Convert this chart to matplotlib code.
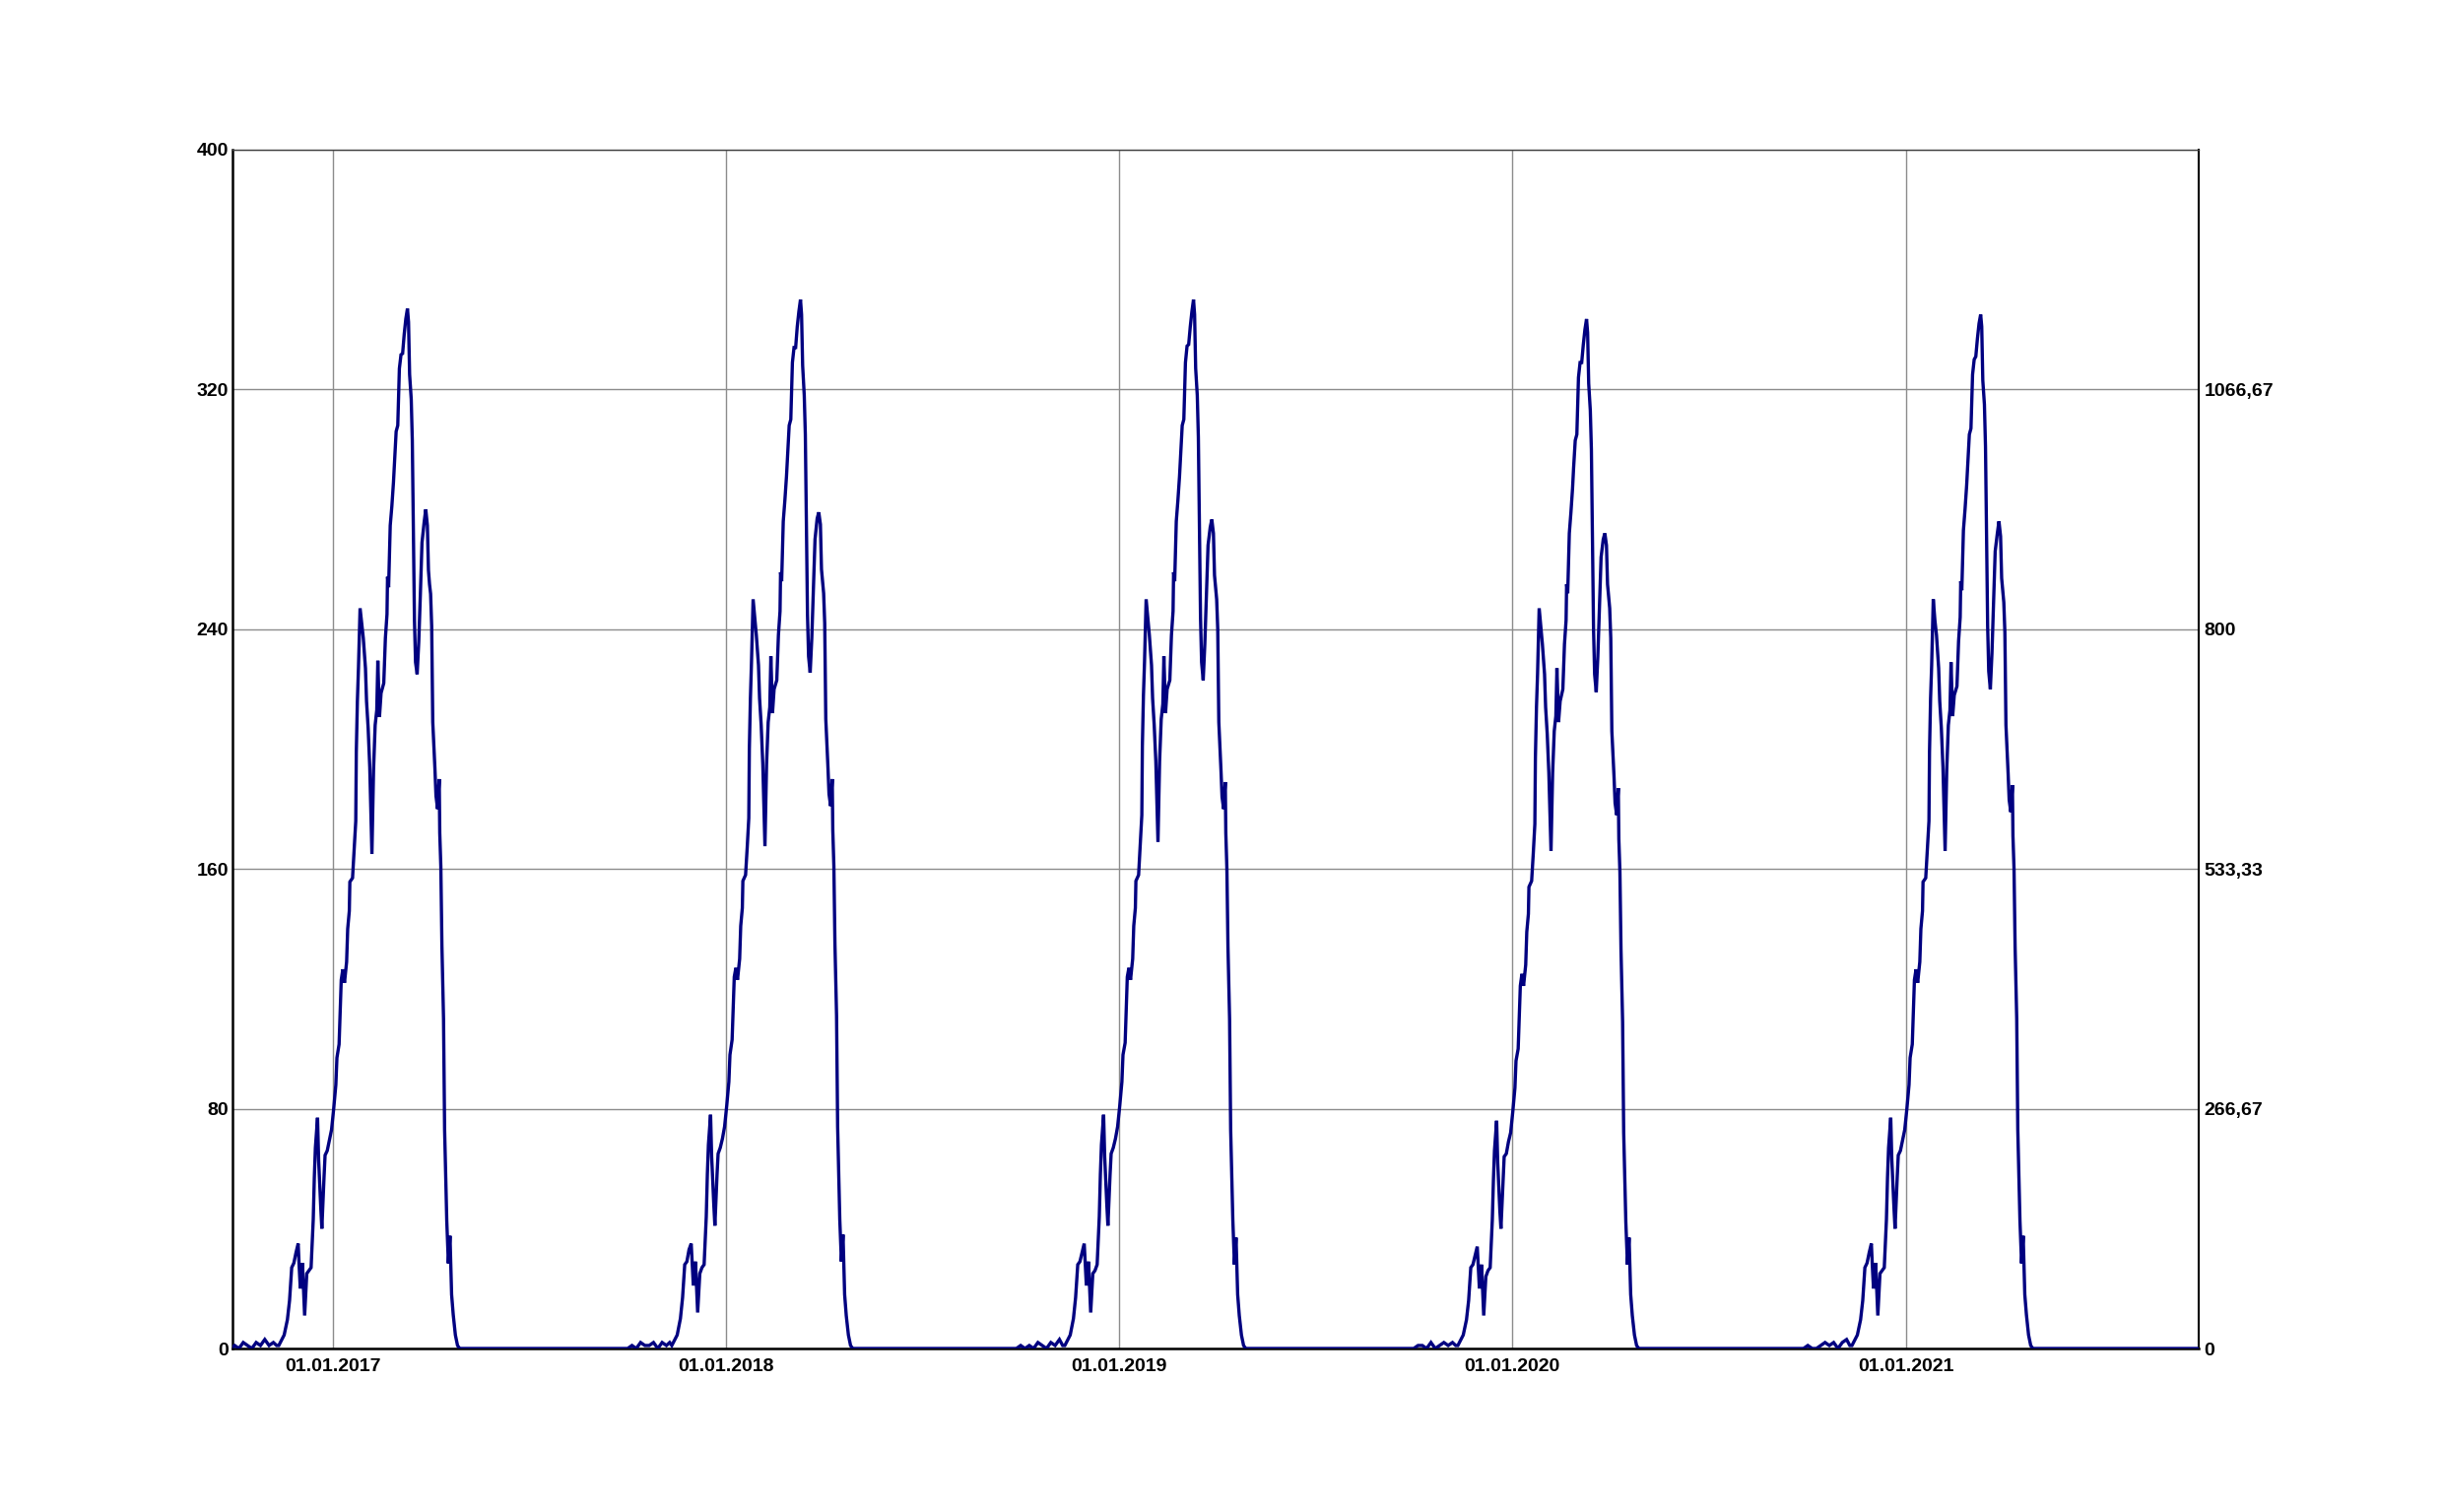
import numpy as np
import matplotlib
matplotlib.use("Agg")
import matplotlib.pyplot as plt
import matplotlib.dates as mdates

# day offsets relative to 1 January of each season year
season_days = [
    -95, -91, -87, -83, -79, -75, -71, -67, -63, -59, -55, -52,
    -50, -45, -42, -40, -38, -36, -34, -32, -31, -30, -28, -26, -24, -22, -20,
    -18, -17, -16, -14, -13, -11, -10, -8, -7, -5, -3, -1,
    1, 3, 4, 6, 8, 9.5, 11, 13, 14, 15.5, 16, 18.5, 20, 21.5, 22,
    23, 24, 25.5, 27, 28.5, 30.5, 31.5, 33, 34.5, 36.5, 38, 39.5, 41, 42, 43.5, 45, 47.5,
    49, 50.5, 51, 52, 53.5, 55, 56.5, 57.5, 59, 60.5, 62, 63.5, 65, 66.5, 68, 69.5,
    70.5, 71.5, 73, 74, 75, 76, 77, 78.5, 80, 81.5, 83, 85, 86.5, 88, 89, 90, 91, 92,
    93, 95, 96, 97.5, 99, 99.5, 100.5, 101.5, 103, 104, 106, 107.5, 109, 110.5, 112, 114, 116, 118,
]

swe_2017 = [
    0, 1, 0, 2, 1, 0, 2, 1, 3, 1, 2, 1,
    1, 4.5, 9.6, 16, 27, 28.5, 32, 35, 27, 20, 28.5, 11, 25, 26, 27,
    43, 57, 67, 77, 63, 47, 40, 57, 64.5, 66, 69.5, 73,
    80, 88, 97, 101.5, 123, 126.5, 122, 129, 140, 146, 155.7, 157, 166.5, 176, 199,
    216, 227, 247, 242, 237, 227, 216, 207, 194, 165, 193, 208, 213, 229.5, 210.7, 218.7, 222,
    237, 245, 257.5, 254, 274.6, 281, 289, 296, 306, 308, 327, 331.6, 332, 338.5, 343.6, 347,
    342.5, 325, 316.8, 303, 273.4, 243, 229, 225, 235.8, 251.8, 268.9, 275.7, 280, 274.6, 259.7, 255, 251.8, 241,
    209, 193.6, 184.4, 180, 190, 172, 160.8, 134.5, 110, 73, 42.7, 28.4, 37.6, 18, 11.3, 4.5, 1, 0,
]

swe_2018 = [
    0, 0, 1, 0, 2, 1, 1, 2, 0, 2, 1, 2,
    1, 4.5, 10, 17, 28, 29, 33, 35, 28, 21, 29, 12, 25, 27, 28,
    44, 58, 68, 78, 64, 48, 41, 58, 65, 67, 70, 74,
    81, 89, 98, 103, 124, 127, 123, 130, 141, 147, 156, 158, 167, 177, 200,
    217, 229, 250, 244, 238, 228, 217, 208, 195, 167.6, 195, 209, 214, 231, 212, 220, 223,
    238, 246, 259, 256, 276, 283, 291, 298, 308, 310, 329, 334, 334, 341, 346, 350,
    345, 328, 318, 305, 275, 245, 231, 225.5, 237, 253, 270, 277, 279, 275, 260, 256, 252, 242,
    210, 194, 185, 181, 190, 173, 161, 135, 111, 74, 43, 29, 38, 18, 11, 4.5, 1, 0,
]

swe_2019 = [
    0, 1, 0, 1, 0, 2, 1, 0, 2, 1, 3, 1,
    1, 4.5, 10, 17, 28, 29, 32, 35, 28, 21, 29, 12, 25, 26, 28,
    44, 58, 68, 78, 64, 48, 41, 58, 65, 67, 70, 74,
    81, 89, 98, 102, 124, 127, 123, 130, 141, 147, 156, 158, 168, 178, 201,
    218, 229, 250, 244, 238, 228, 217, 208, 196, 169, 196, 210, 215, 231, 212, 220, 223,
    238, 246, 259, 256, 276, 283, 291, 298, 308, 310, 329, 334.5, 335, 341, 346, 350,
    345, 327, 318, 304, 274, 244, 229, 223, 235, 251, 268, 274, 276.6, 272, 258, 254, 250, 240,
    209, 193, 184, 180, 189, 172, 160, 134, 110, 73, 43, 28, 37, 18, 11, 4.5, 1, 0,
]

swe_2020 = [
    0, 0, 1, 1, 0, 2, 0, 1, 2, 1, 2, 1,
    1, 4.5, 9.6, 16, 27, 28, 31, 34, 27, 20, 28, 11, 24, 26, 27,
    43, 56, 66, 76, 62, 46, 40, 56, 64, 65, 69, 72,
    79, 87, 96, 100, 121, 125, 121, 128, 139, 145, 154, 156, 165, 175, 197,
    214, 225, 247, 241, 235, 225, 214, 205, 192, 166, 192, 206, 211, 227, 209, 216, 220,
    235, 243, 255, 252, 272, 279, 287, 294, 303, 305, 324, 329, 329, 335, 340, 343.5,
    339, 322, 313, 300, 270, 240, 225, 219, 231, 247, 264, 270, 272, 268, 255, 251, 247, 237,
    206, 191, 182, 178, 187, 170, 159, 133, 109, 72, 42, 28, 37, 18, 11, 4.5, 1, 0,
]

swe_2021 = [
    0, 1, 0, 0, 1, 2, 1, 2, 0, 2, 3, 1,
    1, 4.5, 9.6, 16, 27, 28.5, 32, 35, 27, 20, 28.5, 11, 25, 26, 27,
    43, 57, 67, 77, 63, 47, 40, 57, 64.5, 66, 69.5, 73,
    80, 88, 97, 101.5, 123, 126.5, 122, 129, 140, 146, 155.7, 157, 166.5, 176, 199,
    217, 228, 250, 243, 238, 227, 216, 207, 194, 166, 193, 208, 213, 229, 211, 218, 221,
    236, 244, 256, 253, 273, 280, 288, 295, 305, 307, 325, 330, 331, 337, 342, 345,
    341, 323, 315, 301, 271, 241, 226, 220, 232, 249, 266, 272, 276, 271, 257, 253, 249, 239,
    208, 192, 183, 179, 188, 171, 160, 134, 110, 73, 42.7, 28.4, 37.6, 18, 11.3, 4.5, 1, 0,
]

season_years = [2017, 2018, 2019, 2020, 2021]
season_values = [swe_2017, swe_2018, swe_2019, swe_2020, swe_2021]

x_start = np.datetime64("2016-09-30")
x_end = np.datetime64("2021-09-30")

left_ticks = [0, 80, 160, 240, 320, 400]
right_ticks = [0, 266.67, 533.33, 800, 1066.67]
right_labels = ["0", "266,67", "533,33", "800", "1066,67"]
year_ticks = [np.datetime64(f"{y}-01-01") for y in season_years]

# build the continuous series
dates = []
vals = []
for yr, v in zip(season_years, season_values):
    base = np.datetime64(f"{yr}-01-01T00:00")
    offs = (np.array(season_days) * 24).astype(int).astype("timedelta64[h]")
    dates.extend(list(base + offs))
    vals.extend(v)
dates.append(x_end.astype("datetime64[h]"))
vals.append(0)
dates = np.array(dates, dtype="datetime64[h]").astype("datetime64[ms]").astype(object)

plt.rcParams["font.family"] = ["Liberation Sans", "DejaVu Sans"]

fig = plt.figure(figsize=(24.8, 15.35), dpi=100)
ax = fig.add_axes([236 / 2480, 1 - 1369 / 1535, (2232 - 236) / 2480, (1369 - 152) / 1535])

ax.plot(dates, vals, color="#000080", lw=2.4, zorder=3, solid_joinstyle="miter")

ax.set_xlim(x_start.astype(object), x_end.astype(object))
ax.set_ylim(0, 400)
ax.set_xticks([t.astype(object) for t in year_ticks])
ax.xaxis.set_major_formatter(mdates.DateFormatter("%d.%m.%Y"))
ax.set_yticks(left_ticks)
ax.set_yticklabels([str(t) for t in left_ticks])
ax.grid(True, color="#8c8c8c", lw=1.0)
ax.set_axisbelow(True)
ax.tick_params(axis="both", length=0, labelsize=14)
ax.tick_params(axis="y", pad=3)
ax.tick_params(axis="x", pad=7)
for lab in ax.get_xticklabels() + ax.get_yticklabels():
    lab.set_fontweight("bold")

ax.spines["left"].set_linewidth(1.8)
ax.spines["bottom"].set_linewidth(1.8)
ax.spines["right"].set_linewidth(1.5)
ax.spines["top"].set_linewidth(1.0)
ax.spines["top"].set_color("#404040")
for s in ax.spines.values():
    s.set_zorder(2.5)

ax2 = ax.twinx()
ax2.set_ylim(0, 400 * 10 / 3)
ax2.set_yticks(right_ticks)
ax2.set_yticklabels(right_labels, fontweight="bold")
ax2.tick_params(axis="y", length=0, labelsize=14, pad=4)
for s in ax2.spines.values():
    s.set_visible(False)

fig.savefig("out.png", dpi=100)
